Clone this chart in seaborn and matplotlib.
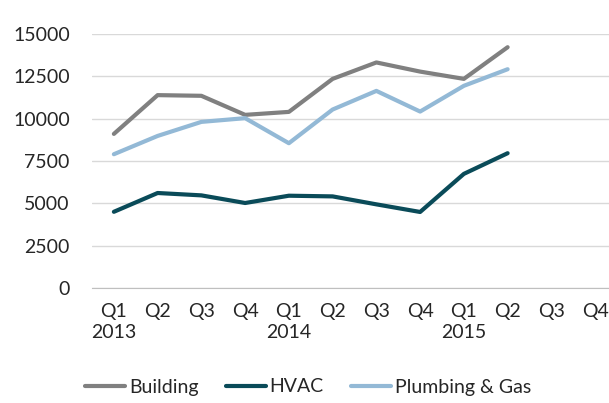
import pandas as pd
import matplotlib.pyplot as plt
import seaborn as sns

plt.switch_backend('Agg')

# quarters on the axis (12 slots, data for first 10)
quarter_labels = ['Q1\n2013', 'Q2', 'Q3', 'Q4',
                  'Q1\n2014', 'Q2', 'Q3', 'Q4',
                  'Q1\n2015', 'Q2', 'Q3', 'Q4']

building = [9100, 11390, 11350, 10225, 10400, 12350, 13320, 12780, 12350, 14220]
hvac = [4500, 5610, 5470, 5020, 5450, 5410, 4940, 4490, 6740, 7960]
plumbing = [7900, 8980, 9810, 10030, 8550, 10540, 11640, 10420, 11940, 12920]

series_names = ['Building', 'HVAC', 'Plumbing & Gas']
colors = ['#808080', '#0a4b59', '#93b9d6']

# long-form table for seaborn
rows = []
for name, vals in zip(series_names, [building, hvac, plumbing]):
    for i, v in enumerate(vals):
        rows.append({'quarter': i, 'value': v, 'series': name})
df = pd.DataFrame(rows)

sns.set_style('white')
plt.rcParams['font.family'] = ['Lato', 'DejaVu Sans']

fig = plt.figure(figsize=(6.09, 4.03), dpi=100)
ax = fig.add_axes([92 / 609, 1 - 288 / 403, 525 / 609, 254 / 403])

sns.lineplot(data=df, x='quarter', y='value', hue='series',
             palette=dict(zip(series_names, colors)), linewidth=3,
             ax=ax, legend=True)

ax.set_xlim(-0.5, 11.5)
ax.set_ylim(0, 15000)
ax.set_yticks(range(0, 15001, 2500))
ax.yaxis.grid(True, color='#d9d9d9', linewidth=1)
ax.set_axisbelow(True)

ax.set_xticks(range(12))
ax.set_xticklabels(quarter_labels, fontsize=14, ha='center', linespacing=1.3)
ax.set_xticks([i - 0.5 for i in range(13)], minor=True)
ax.tick_params(axis='x', which='major', length=0, pad=11)
ax.tick_params(axis='x', which='minor', length=5, color='#bfbfbf', width=1)
ax.tick_params(axis='y', length=0, labelsize=14, pad=16)

for s in ['top', 'right', 'left']:
    ax.spines[s].set_visible(False)
ax.spines['bottom'].set_color('#bfbfbf')
ax.set_xlabel('')
ax.set_ylabel('')

handles, labels = ax.get_legend_handles_labels()
ax.legend(handles, labels, loc='center', bbox_to_anchor=(308 / 609, 1 - 387 / 403),
          bbox_transform=fig.transFigure, ncol=3, frameon=False, fontsize=14,
          handlelength=2.05, handletextpad=0.2, columnspacing=1.4)

fig.savefig('out.png', dpi=100)
plt.close()
